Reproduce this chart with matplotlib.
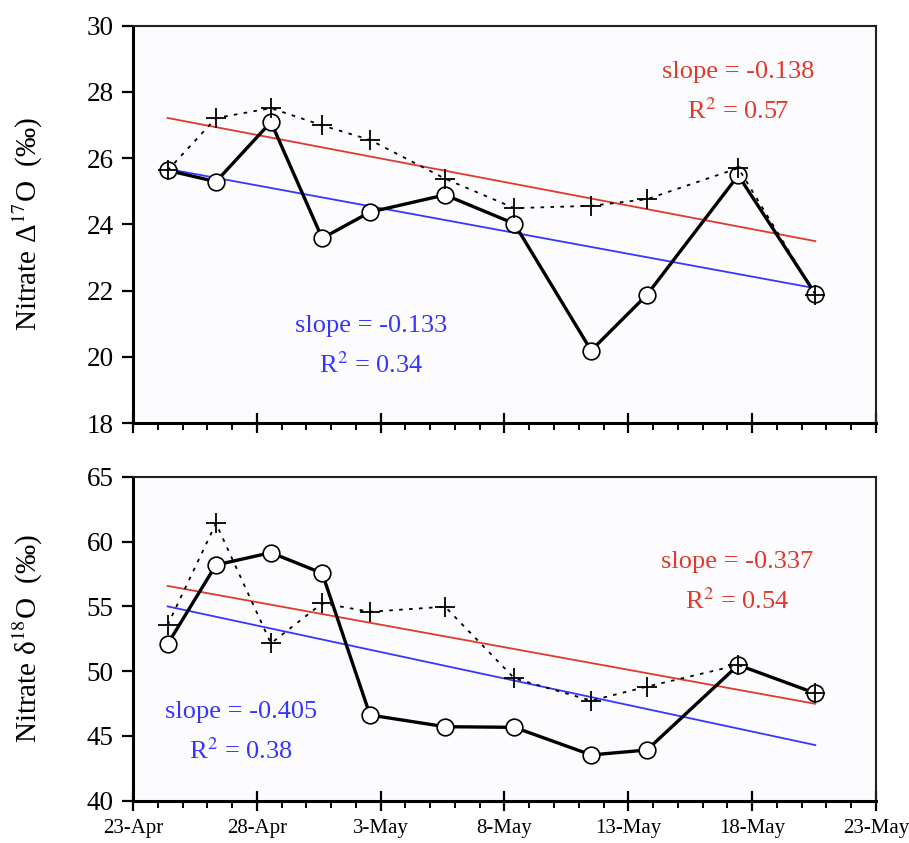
import numpy as np
import matplotlib
matplotlib.use("Agg")
import matplotlib.pyplot as plt

plt.rcParams["font.family"] = ["Liberation Serif", "DejaVu Serif"]
plt.rcParams["mathtext.fontset"] = "stix"

# sampling days, counted from 23-Apr
days = [1.4, 3.35, 5.57, 7.64, 9.57, 12.6, 15.4, 18.5, 20.75, 24.44, 27.55]

# Nitrate D17O (permil)
d17_circle = [25.63, 25.29, 27.09, 23.58, 24.37, 24.89, 24.02, 20.19, 21.87, 25.48, 21.90]
d17_cross = [25.63, 27.21, 27.51, 26.99, 26.55, 25.38, 24.49, 24.56, 24.76, 25.70, 21.88]

# Nitrate d18O (permil)
d18_circle = [52.09, 58.19, 59.14, 57.55, 46.61, 45.71, 45.66, 43.53, 43.91, 50.47, 48.29]
d18_cross = [53.56, 61.40, 52.14, 55.23, 54.58, 54.97, 49.44, 47.72, 48.80, 50.47, 48.29]

tick_days = [0, 5, 10, 15, 20, 25, 30]
tick_labels = ["23-Apr", "28-Apr", "3-May", "8-May", "13-May", "18-May", "23-May"]

RED = "#E0382A"
BLUE = "#3535FF"
BG = "#FCFCFF"

fig = plt.figure(figsize=(9.09, 8.43), dpi=100)
ax1 = fig.add_axes([0.1463, 0.4982, 0.8174, 0.4713])
ax2 = fig.add_axes([0.1463, 0.0502, 0.8174, 0.3843])


def draw_panel(ax, circ, cross, ylim, yticks, ylabel, red_txt, blue_txt, show_xlabels):
    ax.set_facecolor(BG)
    x = np.array(days)
    # linear fits (red = crosses, blue = circles)
    pr = np.polyfit(x, cross, 1)
    pb = np.polyfit(x, circ, 1)
    xe = np.array([x[0], x[-1]])
    ax.plot(xe, np.polyval(pr, xe), color=RED, lw=1.3, zorder=2)
    ax.plot(xe, np.polyval(pb, xe), color=BLUE, lw=1.3, zorder=2)
    ax.plot(x, circ, color="black", lw=2.4, marker="o", ms=12,
            mfc="white", mec="black", mew=1.2, zorder=3)
    ax.plot(x, cross, color="black", lw=1.3, ls=(0, (2.0, 3.5)), marker="+",
            ms=15, mew=1.3, zorder=4)

    ax.set_xlim(0, 30)
    ax.set_ylim(*ylim)
    ax.set_yticks(yticks)
    ax.set_xticks(tick_days)
    ax.set_xticks(np.arange(0, 31, 1), minor=True)
    if show_xlabels:
        ax.set_xticklabels(tick_labels, fontsize=15)
    else:
        ax.set_xticklabels([])
    ax.tick_params(axis="y", labelsize=19.5, length=8, width=1.6, direction="out", pad=6)
    ax.tick_params(axis="x", which="major", length=15, width=1.6, direction="inout", pad=6)
    ax.tick_params(axis="x", which="minor", length=5, width=1.4, direction="out")
    for s in ["left", "bottom"]:
        ax.spines[s].set_linewidth(2.2)
    for s in ["top", "right"]:
        ax.spines[s].set_linewidth(1.5)
        ax.spines[s].set_color("#202020")
    ax.set_ylabel(ylabel, fontsize=21)
    ax.yaxis.set_label_coords(-0.118, 0.5)

    ax.text(red_txt[0], red_txt[1], red_txt[2], color=RED, fontsize=19,
            ha="center", va="center", transform=ax.transAxes, linespacing=1.75)
    ax.text(blue_txt[0], blue_txt[1], blue_txt[2], color=BLUE, fontsize=19,
            ha="center", va="center", transform=ax.transAxes, linespacing=1.75)


draw_panel(ax1, d17_circle, d17_cross, (18, 30), [18, 20, 22, 24, 26, 28, 30],
           "Nitrate Δ$^{17}$O  (‰)",
           (0.815, 0.832, "slope = -0.138\nR$^{2}$ = 0.57"),
           (0.32, 0.193, "slope = -0.133\nR$^{2}$ = 0.34"),
           False)
draw_panel(ax2, d18_circle, d18_cross, (40, 65), [40, 45, 50, 55, 60, 65],
           "Nitrate δ$^{18}$O  (‰)",
           (0.813, 0.673, "slope = -0.337\nR$^{2}$ = 0.54"),
           (0.145, 0.21, "slope = -0.405\nR$^{2}$ = 0.38"),
           True)

fig.savefig("out.png", dpi=100, facecolor="white")
